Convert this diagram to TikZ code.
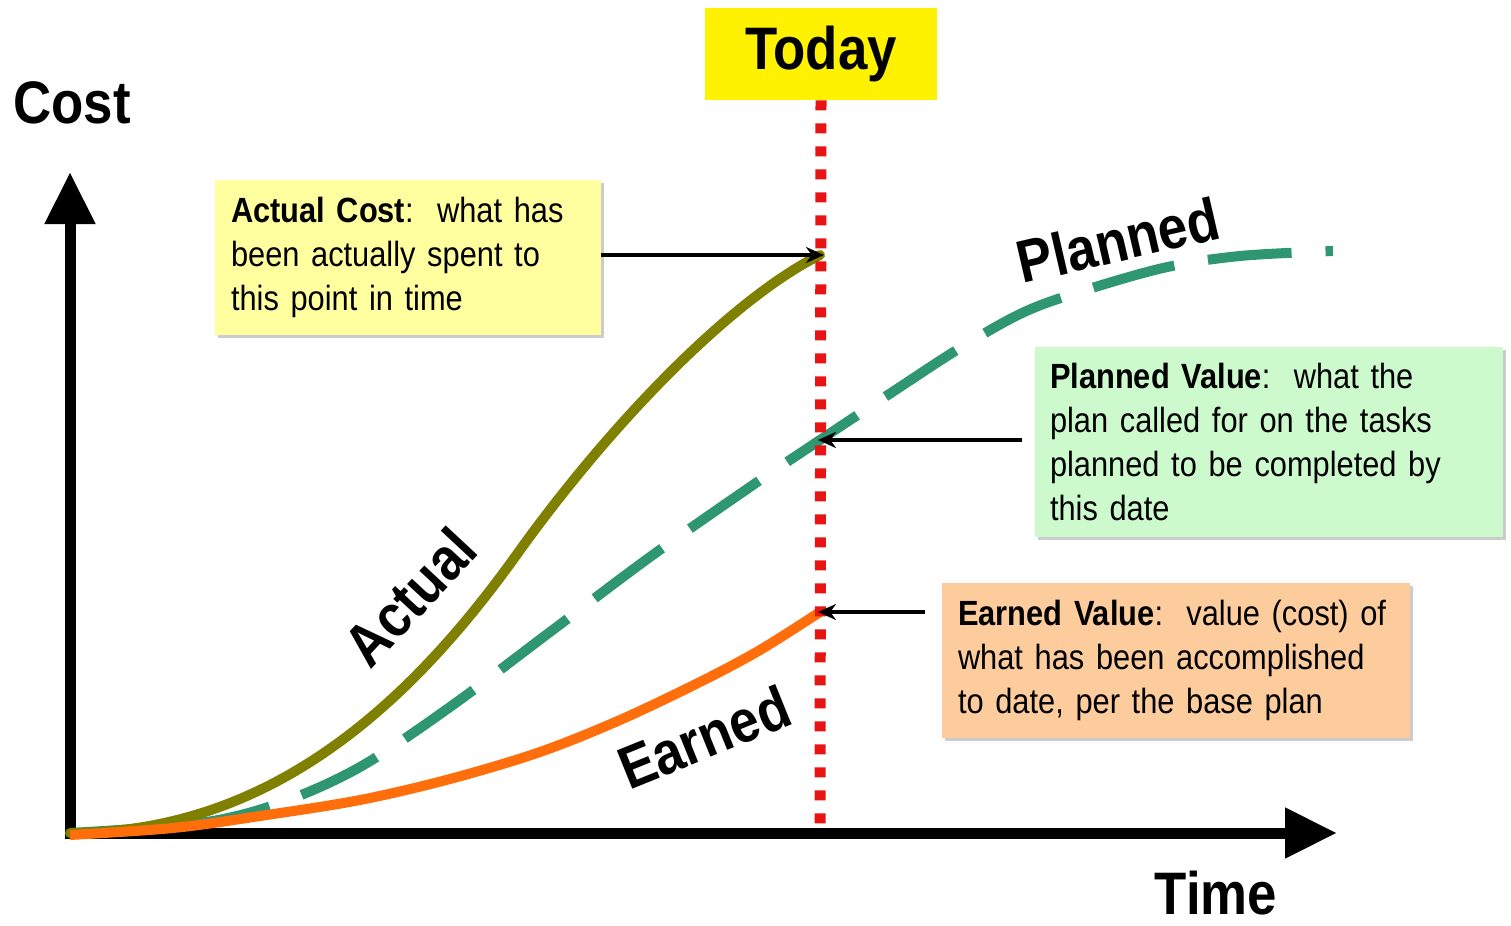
\documentclass[tikz,border=0pt]{standalone}
\usepackage{fontspec}
\setmainfont{Liberation Sans}[FakeStretch=0.88]
\usepackage{tikz}
\usetikzlibrary{arrows.meta,shadows,calc}
\definecolor{actualc}{RGB}{128,128,0}
\definecolor{plannedc}{RGB}{46,150,112}
\definecolor{earnedc}{RGB}{255,110,10}
\definecolor{todayc}{RGB}{232,20,20}
\definecolor{acfill}{RGB}{255,255,160}
\definecolor{pvfill}{RGB}{204,250,204}
\definecolor{evfill}{RGB}{252,204,156}
\newcommand{\bigfont}{\fontsize{30}{34}\selectfont\bfseries}
\newcommand{\boxfont}{\fontsize{17.5}{22}\selectfont}

\begin{document}
\begin{tikzpicture}[x=0.5pt, y=-0.5pt,
    axis/.style={line width=5.5pt, -{Triangle[length=26pt,width=24pt]}},
    curve/.style={line width=5pt, line cap=round},
    ptr/.style={line width=2.3pt, -{Stealth[length=9pt,width=8pt]}},
    infobox/.style={align=left, inner xsep=8pt, minimum height=#1, anchor=center,
      font=\boxfont, drop shadow={shadow xshift=1.5pt, shadow yshift=-1.5pt, fill=black!40}},
    biglabel/.style={font=\bigfont, inner sep=0pt}]
  \useasboundingbox (0,0) rectangle (1511,926);

  % axes
  \coordinate (origin) at (70,833);
  \draw[axis] (origin) -- (70,172);
  \draw[axis] ([xshift=-2.75pt]origin) -- (1337,833);
  \node[biglabel] (cost) at (72,103) {Cost};
  \node[biglabel] (time) at (1216,893) {Time};

  % the three curves
  \draw[curve, plannedc, line cap=butt, dash pattern=on 42pt off 17pt]
    plot[smooth, tension=0.55] coordinates {(70,833) (200,823) (280,803) (360,767) (450,707)
      (550,632) (650,557) (750,487) (820,440) (900,387) (960,348) (1020,314) (1073,294)
      (1163,268) (1240,256) (1333,251)};
  \draw[curve, actualc] (origin) .. controls (270,833) and (410,705) .. (520,550)
    .. controls (610,425) and (730,300) .. (820,255);
  \draw[curve, earnedc, line cap=butt]
    plot[smooth, tension=0.55] coordinates {(70,835) (173,828) (260,816) (360,800) (450,779)
      (540,752) (620,720) (700,682) (760,650) (820,612)};

  \node[biglabel, rotate=47] (actlbl) at (410,597) {Actual};
  \node[biglabel, rotate=13] (planlbl) at (1118,240) {Planned};
  \node[biglabel, rotate=22] (earnlbl) at (704,737) {Earned};

  % today marker
  \node[fill=yellow, minimum width=116pt, minimum height=46pt, font=\bigfont] (today) at (821,54) {Today};
  \draw[todayc, line width=5.5pt, dash pattern=on 5pt off 6.5pt] (today.south) -- (820,833);

  \coordinate (ac) at (824,255);
  \coordinate (pv) at (818,440);
  \coordinate (ev) at (818,612);

  % explanation boxes
  \node[infobox=77.5pt, fill=acfill, text width=177pt] (acbox) at (408,257.5)
    {\textbf{Actual Cost}:\ \ what has\\ been actually spent to\\ this point in time};
  \node[infobox=95pt, fill=pvfill, text width=219pt, inner xsep=7.5pt] (pvbox) at (1269,442)
    {\textbf{Planned Value}:\ \ what the\\ plan called for on the tasks\\ planned to be completed by\\ this date};
  \node[infobox=77.5pt, fill=evfill, text width=218pt] (evbox) at (1176,660.5)
    {\mbox{\textbf{Earned Value}:\ \ value (cost) of}\\ what has been accomplished\\ to date, per the base plan};

  \draw[ptr] (acbox.east |- ac) -- (ac);
  \draw[ptr] ([xshift=-6.5pt]pvbox.west |- pv) -- (pv);
  \draw[ptr] ([xshift=-8.5pt]evbox.west |- ev) -- (ev);
\end{tikzpicture}
\end{document}
